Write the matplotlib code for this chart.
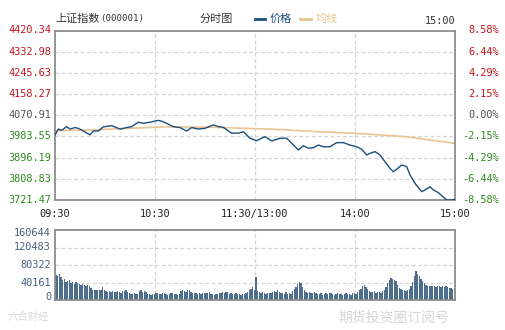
import matplotlib.pyplot as plt
import numpy as np

# index minutes (0 = 09:30, 120 = 11:30/13:00, 240 = 15:00)
price_minutes = [0, 2, 4, 7, 9, 12, 14, 16, 21, 23, 26, 29, 34, 39, 43, 46, 50, 53, 57,
                 62, 65, 71, 75, 79, 82, 86, 90, 95, 98, 101, 106, 110, 113, 117, 121,
                 126, 130, 135, 139, 146, 149, 152, 155, 158, 161, 165, 169, 173, 177,
                 181, 184, 187, 189, 192, 195, 198, 201, 203, 205, 208, 211, 213, 216,
                 220, 222, 225, 227, 230, 235, 238, 240]
price_values = [3989.5, 4014, 4009, 4024, 4014, 4020, 4017, 4010, 3990, 4006, 4006, 4023,
                4028, 4014, 4020, 4024, 4042, 4038, 4042, 4050, 4044, 4024, 4020, 4006,
                4020, 4014, 4017, 4031, 4024, 4021, 3997, 3997, 4003, 3976, 3966, 3983,
                3965, 3976, 3976, 3928, 3945, 3935, 3937, 3948, 3941, 3941, 3958, 3958,
                3948, 3941, 3931, 3907, 3914, 3921, 3907, 3879, 3852, 3838, 3848, 3866,
                3859, 3825, 3790, 3756, 3763, 3776, 3763, 3752, 3721.5, 3721.5, 3724]

avg_minutes = [0, 20, 45, 65, 90, 115, 135, 155, 175, 195, 210, 225, 240]
avg_values = [4007, 4010, 4017, 4023, 4022, 4017, 4012, 4004, 3998, 3990, 3983, 3969, 3955]

# per-minute volume, in thousands
volume_k = [
    57, 55, 59, 52, 45, 49, 41, 44, 47, 39, 42, 37, 41, 38, 36, 35, 37, 34, 33, 35,
    32, 28, 24, 23, 22, 24, 23, 22, 29, 24, 20, 19, 21, 18, 20, 19, 18, 20, 19, 17,
    21, 20, 22, 18, 15, 14, 13, 15, 14, 13, 20, 22, 19, 21, 18, 14, 13, 12, 14, 13,
    16, 15, 14, 13, 16, 15, 14, 12, 13, 15, 16, 14, 13, 12, 14, 21, 22, 20, 19, 23,
    22, 18, 16, 15, 17, 14, 15, 13, 16, 17, 16, 15, 18, 14, 13, 12, 13, 14, 15, 17,
    18, 17, 19, 18, 14, 15, 13, 14, 15, 13, 14, 12, 13, 14, 15, 18, 22, 26, 29, 24,
    52, 20, 18, 16, 19, 15, 14, 16, 17, 15, 19, 21, 18, 22, 19, 17, 16, 14, 18, 13,
    15, 14, 21, 26, 30, 36, 41, 38, 29, 24, 18, 16, 19, 17, 16, 18, 15, 14, 13, 15,
    12, 14, 15, 13, 16, 15, 14, 12, 13, 15, 14, 13, 12, 14, 15, 13, 14, 12, 16, 15,
    14, 18, 22, 26, 32, 34, 30, 25, 21, 19, 18, 20, 17, 19, 18, 16, 20, 24, 30, 38,
    45, 50, 48, 47, 44, 35, 27, 25, 22, 23, 20, 22, 26, 33, 42, 55, 66, 60, 54, 49,
    44, 38, 34, 31, 33, 32, 31, 33, 30, 32, 31, 30, 31, 29, 31, 30, 28, 27, 26, 24,
]

prev_close = 4070.91
price_labels = ["3721.47", "3808.83", "3896.19", "3983.55", "4070.91",
                "4158.27", "4245.63", "4332.98", "4420.34"]
pct_labels = ["-8.58%", "-6.44%", "-4.29%", "-2.15%", "0.00%",
              "2.15%", "4.29%", "6.44%", "8.58%"]
vol_labels = ["0", "40161", "80322", "120483", "160644"]
time_labels = ["09:30", "10:30", "11:30/13:00", "14:00", "15:00"]

RED = "#c4161c"
GREEN = "#2f8a1f"
GRAY = "#555555"
LINE_BLUE = "#1b4f7b"
AVG_TAN = "#e9c394"
BAR = "#4f6e8e"
VOL_TXT = "#47607e"
SPINE = "#8c8c8c"
GRID = "#d4d4d4"
MONO = ["DejaVu Sans Mono", "Noto Sans CJK SC"]
CJK = ["Noto Sans CJK SC", "DejaVu Sans"]

fig = plt.figure(figsize=(5.05, 3.30), dpi=100)
fig.patch.set_facecolor("white")

ax = fig.add_axes([55 / 505, 1 - 200 / 330, 400 / 505, 169.5 / 330])
vax = fig.add_axes([55 / 505, 1 - 300 / 330, 400 / 505, 70 / 330])

price_ticks = [float(s) for s in price_labels]
vol_ticks = [float(s) for s in vol_labels]
time_ticks = np.linspace(0, 240, len(time_labels))

for a in (ax, vax):
    a.set_xlim(0, 240)
    a.set_xticks([])
    a.set_yticks([])
    for s in a.spines.values():
        s.set_color(SPINE)
        s.set_linewidth(1.3)
    for t in time_ticks[1:-1]:
        a.axvline(t, color=GRID, lw=0.9, ls=(0, (3, 2)), zorder=0)

ax.set_ylim(price_ticks[0], price_ticks[-1])
for v in price_ticks[1:-1]:
    ax.axhline(v, color=GRID, lw=0.9, ls=(0, (3, 2)), zorder=0)

ax.plot(avg_minutes, avg_values, color=AVG_TAN, lw=1.2, zorder=2)
ax.plot(price_minutes, price_values, color=LINE_BLUE, lw=1.0, zorder=3)

# price labels on the left, change in percent on the right
for v, lab, pct in zip(price_ticks, price_labels, pct_labels):
    if v > prev_close + 1:
        col = RED
    elif v < prev_close - 1:
        col = GREEN
    else:
        col = GRAY
    ax.text(-4 / 400 * 240, v, lab, ha="right", va="center", fontsize=7.4,
            color=col, family=MONO)
    ax.text(240 + 44 / 400 * 240, v, pct, ha="right", va="center", fontsize=7.4,
            color=col, family=MONO)

for t, lab in zip(time_ticks, time_labels):
    ax.text(t, price_ticks[0] - 14 * 4.123, lab, ha="center", va="center",
            fontsize=7.4, color="#222222", family=MONO)

# volume panel
vax.set_ylim(0, vol_ticks[-1])
for v in vol_ticks[1:-1]:
    vax.axhline(v, color=GRID, lw=0.9, ls=(0, (3, 2)), zorder=0)
vol = np.array(volume_k) * 1000
vax.bar(np.arange(len(vol)) + 0.6, vol, width=0.75, color=BAR, zorder=2)
px = vol_ticks[-1] / 70  # volume per pixel
for i, (v, lab) in enumerate(zip(vol_ticks, vol_labels)):
    if i == 0:
        v = v + 3 * px
    elif i == len(vol_ticks) - 1:
        v = v - 3 * px
    vax.text(-4 / 400 * 240, v, lab, ha="right", va="center", fontsize=7.4,
             color=VOL_TXT, family=MONO)

# header line
fig.text(55 / 505, 1 - 19 / 330, "上证指数", ha="left", va="center",
         fontsize=8, color="#333333", family=CJK)
fig.text(100 / 505, 1 - 19 / 330, "(000001)", ha="left", va="center",
         fontsize=6.6, color="#333333", family=MONO)
fig.text(200 / 505, 1 - 19 / 330, "分时图", ha="left", va="center",
         fontsize=8, color="#333333", family=CJK)
fig.add_artist(plt.Line2D([255 / 505, 265 / 505], [1 - 19 / 330] * 2,
                          color=LINE_BLUE, lw=2))
fig.text(270 / 505, 1 - 19 / 330, "价格", ha="left", va="center",
         fontsize=8, color=LINE_BLUE, family=CJK)
fig.add_artist(plt.Line2D([300 / 505, 311 / 505], [1 - 19 / 330] * 2,
                          color=AVG_TAN, lw=2))
fig.text(316 / 505, 1 - 19 / 330, "均线", ha="left", va="center",
         fontsize=8, color=AVG_TAN, family=CJK)
fig.text(455 / 505, 1 - 21 / 330, "15:00", ha="right", va="center",
         fontsize=7.4, color="#333333", family=MONO)

# faint channel marks at the bottom
fig.text(8 / 505, 1 - 317 / 330, "六合财经", ha="left", va="center",
         fontsize=7.5, color="#d8d8d8", family=CJK)
fig.text(338 / 505, 1 - 318 / 330, "期货投资圈订阅号", ha="left", va="center",
         fontsize=10, color="#d6d6d6", family=CJK)

fig.savefig("out.png", dpi=100)
